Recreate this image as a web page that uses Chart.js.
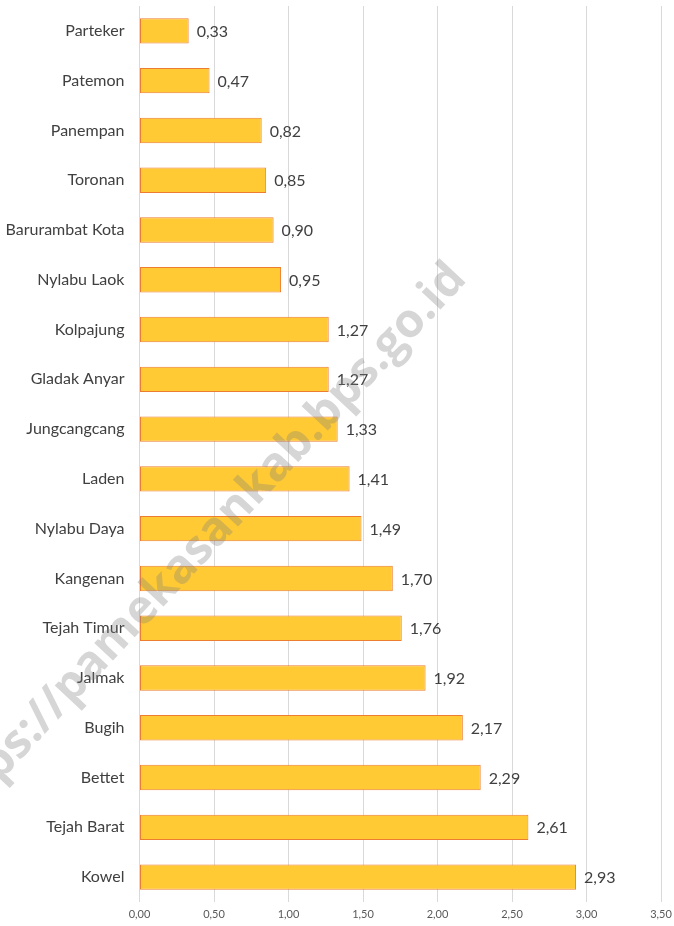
<!DOCTYPE html>
<html>
<head>
<meta charset="utf-8">
<script src="https://cdn.jsdelivr.net/npm/chart.js@4"></script>
<style>
  html, body { margin: 0; padding: 0; background: #ffffff; }
  #wrap { width: 674px; height: 926px; position: relative; }
</style>
</head>
<body>
<div id="wrap"><canvas id="c" width="674" height="926"></canvas></div>
<script>
const categories = ["Parteker","Patemon","Panempan","Toronan","Barurambat Kota","Nylabu Laok","Kolpajung","Gladak Anyar","Jungcangcang","Laden","Nylabu Daya","Kangenan","Tejah Timur","Jalmak","Bugih","Bettet","Tejah Barat","Kowel"];
const values = [0.33,0.47,0.82,0.85,0.90,0.95,1.27,1.27,1.33,1.41,1.49,1.70,1.76,1.92,2.17,2.29,2.61,2.93];
const xTicks = [0,0.5,1,1.5,2,2.5,3,3.5];
const watermarkText = "https://pamekasankab.bps.go.id";

const fmt = v => v.toFixed(2).replace('.', ',');

const valueLabels = {
  id: 'valueLabels',
  afterDatasetsDraw(chart) {
    const ctx = chart.ctx;
    const meta = chart.getDatasetMeta(0);
    ctx.save();
    ctx.font = '16px Lato';
    ctx.fillStyle = '#404040';
    ctx.textAlign = 'left';
    ctx.textBaseline = 'middle';
    meta.data.forEach((bar, i) => {
      ctx.fillText(fmt(values[i]), bar.x + 8, bar.y + 1);
    });
    ctx.restore();
  }
};

const watermark = {
  id: 'watermark',
  afterDraw(chart) {
    const ctx = chart.ctx;
    ctx.save();
    ctx.translate(468, 280);
    ctx.rotate(-47 * Math.PI / 180);
    ctx.font = 'bold 47px "Open Sans"';
    ctx.fillStyle = 'rgba(128,128,128,0.32)';
    ctx.textAlign = 'right';
    ctx.textBaseline = 'alphabetic';
    ctx.fillText(watermarkText, 0, 0);
    ctx.restore();
  }
};

new Chart(document.getElementById('c'), {
  type: 'bar',
  data: {
    labels: categories,
    datasets: [{
      data: values,
      backgroundColor: '#FFCA33',
      borderColor: '#ED7D31',
      borderWidth: 1,
      borderSkipped: false,
      categoryPercentage: 1,
      barPercentage: 0.51
    }]
  },
  options: {
    indexAxis: 'y',
    responsive: false,
    animation: false,
    devicePixelRatio: 1,
    layout: { padding: { left: 0, right: 13, top: 6, bottom: 0 } },
    plugins: { legend: { display: false }, tooltip: { enabled: false } },
    scales: {
      x: {
        min: 0, max: 3.5,
        afterBuildTicks(scale) { scale.ticks = xTicks.map(v => ({ value: v })); },
        afterFit(scale) { scale.height = 24; scale.paddingLeft = 0; scale.paddingRight = 0; },
        ticks: {
          callback: v => fmt(v),
          font: { family: 'Lato', size: 11 },
          color: '#595959',
          padding: 6,
          maxRotation: 0
        },
        grid: { color: '#d9d9d9', lineWidth: 1, drawTicks: false },
        border: { display: false }
      },
      y: {
        afterFit(scale) { scale.width = 139.5; scale.paddingTop = 0; scale.paddingBottom = 0; },
        ticks: {
          font: { family: 'Lato', size: 16 },
          color: '#404040',
          padding: 15
        },
        grid: { display: false, drawTicks: false },
        border: { display: false }
      }
    }
  },
  plugins: [valueLabels, watermark]
});
</script>
</body>
</html>
